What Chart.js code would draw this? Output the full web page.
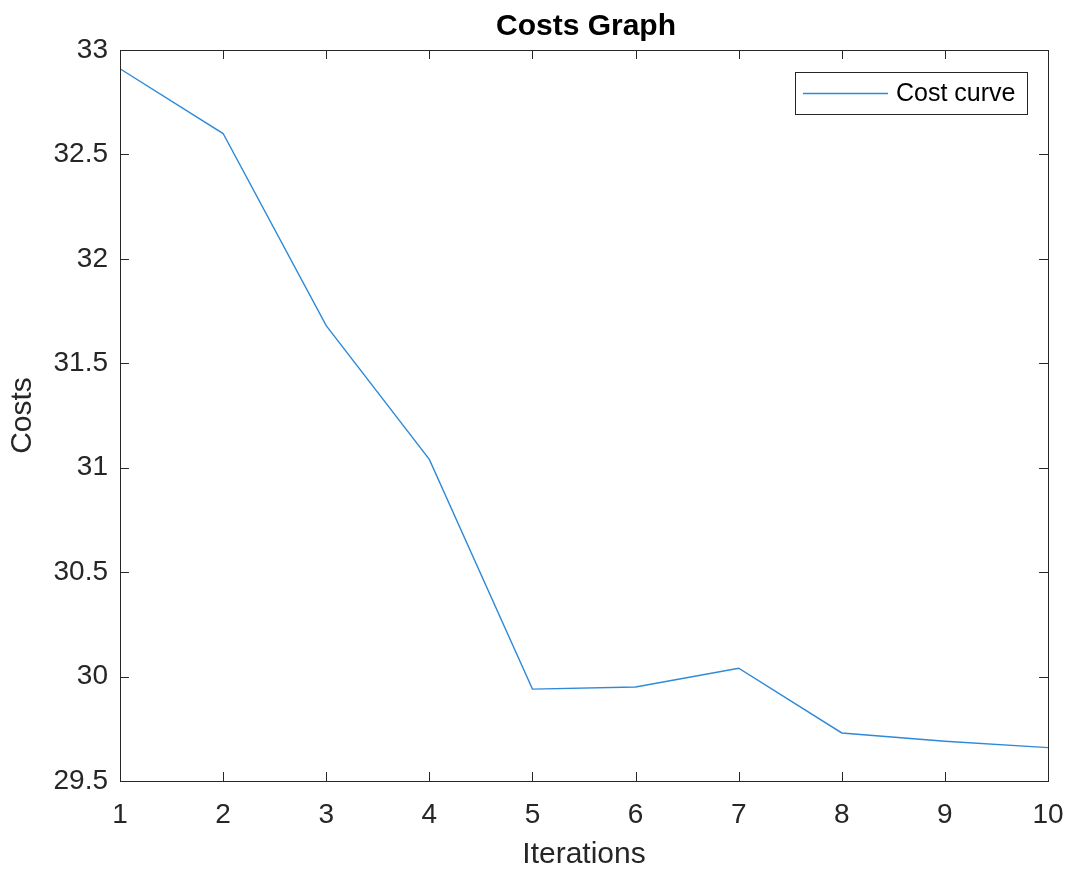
<!DOCTYPE html>
<html><head><meta charset="utf-8">
<script src="https://cdn.jsdelivr.net/npm/chart.js@4"></script>
<style>html,body{margin:0;padding:0;background:#fff}#wrap{width:1073px;height:870px}</style>
</head><body><div id="wrap"><canvas id="c" width="1073" height="870"></canvas></div>
<script>
const iterations = [1, 2, 3, 4, 5, 6, 7, 8, 9, 10];
const costs = [32.91, 32.60, 31.68, 31.04, 29.94, 29.95, 30.04, 29.73, 29.69, 29.66];
const xTicks = [1, 2, 3, 4, 5, 6, 7, 8, 9, 10];
const yTicks = [29.5, 30, 30.5, 31, 31.5, 32, 32.5, 33];
const chartTitle = 'Costs Graph';
const xTitle = 'Iterations';
const yTitle = 'Costs';
const seriesName = 'Cost curve';

const FONT = '"Liberation Sans", Arial, Helvetica, sans-serif';
const AX = '#262626';
const LINE = '#2e8ad8';

const boxPlugin = {
  id: 'box',
  afterDraw(chart) {
    const ctx = chart.ctx, a = chart.chartArea;
    const xs = chart.scales.x, ys = chart.scales.y;
    ctx.save();
    ctx.strokeStyle = AX; ctx.lineWidth = 1;
    ctx.strokeRect(Math.round(a.left) + 0.5, Math.round(a.top) + 0.5, Math.round(a.right - a.left), Math.round(a.bottom - a.top));
    const tl = 9;
    ctx.beginPath();
    xTicks.forEach(v => {
      const px = Math.round(xs.getPixelForValue(v)) + 0.5;
      ctx.moveTo(px, a.bottom); ctx.lineTo(px, a.bottom - tl);
      ctx.moveTo(px, a.top); ctx.lineTo(px, a.top + tl);
    });
    yTicks.forEach(v => {
      const py = Math.round(ys.getPixelForValue(v)) + 0.5;
      ctx.moveTo(a.left, py); ctx.lineTo(a.left + tl, py);
      ctx.moveTo(a.right, py); ctx.lineTo(a.right - tl, py);
    });
    ctx.stroke();
    // title
    ctx.fillStyle = '#000';
    ctx.font = 'bold 30px ' + FONT;
    ctx.textAlign = 'center'; ctx.textBaseline = 'middle';
    ctx.fillText(chartTitle, (a.left + a.right) / 2 + 2, 27);
    // legend
    const ds = chart.data.datasets[0];
    const lx = 795, ly = 72, lw = 232, lh = 42;
    ctx.fillStyle = '#fff';
    ctx.fillRect(lx, ly, lw, lh);
    ctx.strokeStyle = '#262626';
    ctx.strokeRect(lx + 0.5, ly + 0.5, lw, lh);
    ctx.strokeStyle = ds.borderColor; ctx.lineWidth = ds.borderWidth;
    ctx.beginPath(); ctx.moveTo(803, 93.5); ctx.lineTo(888, 93.5); ctx.stroke();
    ctx.fillStyle = '#000';
    ctx.font = '25px ' + FONT;
    ctx.textAlign = 'left';
    ctx.fillText(ds.label, 896, 94);
    ctx.restore();
  }
};

new Chart(document.getElementById('c'), {
  type: 'line',
  data: {
    datasets: [{
      label: seriesName,
      data: iterations.map((x, i) => ({x: x, y: costs[i]})),
      borderColor: LINE,
      borderWidth: 1.4,
      pointRadius: 0,
      tension: 0,
      fill: false
    }]
  },
  options: {
    responsive: false,
    animation: false,
    devicePixelRatio: 1,
    layout: {padding: {top: 50, right: 25, left: 0, bottom: 0}},
    plugins: {legend: {display: false}, title: {display: false}, tooltip: {enabled: false}},
    scales: {
      x: {
        type: 'linear', min: 1, max: 10,
        afterBuildTicks: s => { s.ticks = xTicks.map(v => ({value: v})); },
        afterFit: s => { s.height = 89; s.paddingLeft = 0; s.paddingRight = 0; },
        grid: {display: false, drawTicks: false},
        border: {display: false},
        ticks: {color: AX, font: {family: FONT, size: 28}, padding: 17, maxRotation: 0, autoSkip: false},
        title: {display: true, text: xTitle, color: AX, font: {family: FONT, size: 30, lineHeight: 1}, padding: {top: 0, bottom: 0}}
      },
      y: {
        type: 'linear', min: 29.5, max: 33,
        afterBuildTicks: s => { s.ticks = yTicks.map(v => ({value: v})); },
        afterFit: s => { s.width = 120; s.paddingTop = 0; s.paddingBottom = 0; },
        grid: {display: false, drawTicks: false},
        border: {display: false},
        ticks: {color: AX, font: {family: FONT, size: 28}, padding: 12, autoSkip: false,
                callback: v => String(v)},
        title: {display: true, text: yTitle, color: AX, font: {family: FONT, size: 30, lineHeight: 1}, padding: {top: 8, bottom: 0}}
      }
    }
  },
  plugins: [boxPlugin]
});
</script></body></html>
